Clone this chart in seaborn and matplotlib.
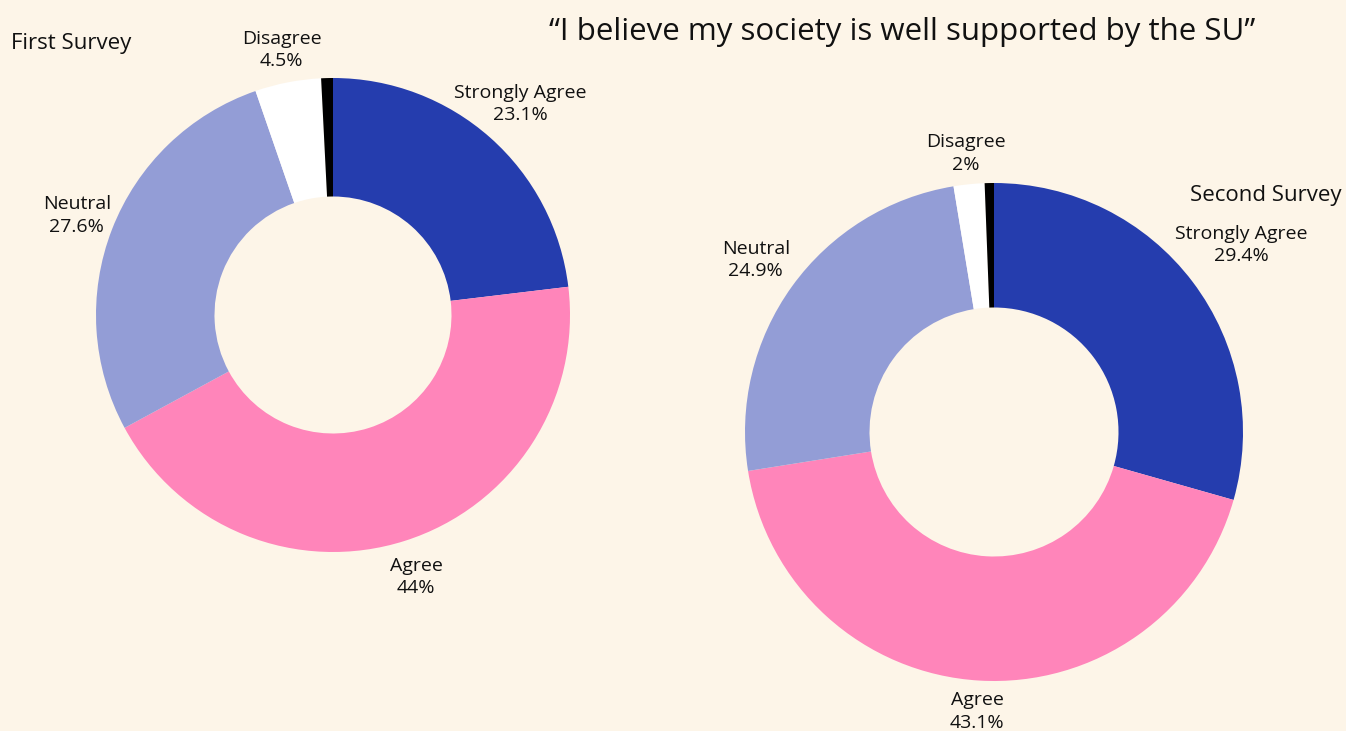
import numpy as np
import matplotlib
matplotlib.use("Agg")
import matplotlib.pyplot as plt
import seaborn as sns

# Survey responses, in percent, ordered clockwise from 12 o'clock
categories = ["Strongly Agree", "Agree", "Neutral", "Disagree", "Strongly Disagree"]
first_survey = [23.1, 44.0, 27.6, 4.5, 0.8]
second_survey = [29.4, 43.1, 24.9, 2.0, 0.6]
value_labels_first = ["23.1%", "44%", "27.6%", "4.5%", None]
value_labels_second = ["29.4%", "43.1%", "24.9%", "2%", None]

title = "\u201cI believe my society is well supported by the SU\u201d"

sns.set_theme(style="white")
plt.rcParams["font.family"] = ["Open Sans", "DejaVu Sans"]

bg = "#FDF5E8"
palette = sns.color_palette(["#253DAE", "#FF85BA", "#939DD6", "#FFFFFF", "#000000"])

W, H = 1346, 731
fig = plt.figure(figsize=(W / 100, H / 100), dpi=100, facecolor=bg)
ax = fig.add_axes([0, 0, 1, 1])
ax.set_facecolor(bg)


def donut(values, labels, center, radius, label_dist):
    cx, cy = center[0], H - center[1]
    wedges, _ = ax.pie(values, colors=palette, startangle=90, counterclock=False,
                       center=(cx, cy), radius=radius, frame=True,
                       wedgeprops=dict(width=radius * 0.5, linewidth=0))
    for w, cat, lab, d in zip(wedges, categories, labels, label_dist):
        if lab is None:
            continue
        ang = np.deg2rad((w.theta1 + w.theta2) / 2)
        ax.text(cx + d * radius * np.cos(ang), cy + d * radius * np.sin(ang),
                f"{cat}\n{lab}", ha="center", va="center", fontsize=14,
                color="#111111", linespacing=1.32)


donut(first_survey, value_labels_first, (333, 315), 237, [1.19, 1.16, 1.16, 1.14])
donut(second_survey, value_labels_second, (994, 432), 249, [1.245, 1.125, 1.18, 1.125])

ax.set_xlim(0, W)
ax.set_ylim(0, H)
ax.set_aspect("equal")
ax.axis("off")

ax.text(11, H - 43, "First Survey", ha="left", va="center", fontsize=16, color="#111111")
ax.text(1266, H - 196, "Second Survey", ha="center", va="center", fontsize=16, color="#111111")
ax.text(902, H - 32, title, ha="center", va="center", fontsize=22.5, color="#111111")

fig.savefig("out.png", dpi=100, facecolor=bg)
